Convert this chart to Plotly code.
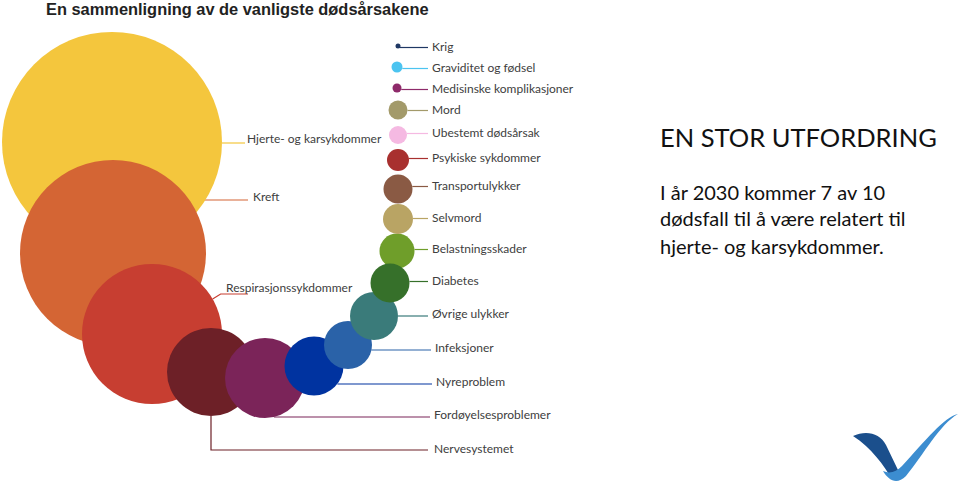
import math
import plotly.graph_objects as go

# ---- data ----
causes = ["Hjerte- og karsykdommer", "Kreft", "Respirasjonssykdommer", "Nervesystemet",
          "Fordøyelsesproblemer", "Nyreproblem", "Infeksjoner", "Øvrige ulykker",
          "Belastningsskader", "Diabetes", "Selvmord", "Transportulykker",
          "Psykiske sykdommer", "Ubestemt dødsårsak", "Mord", "Medisinske komplikasjoner",
          "Graviditet og fødsel", "Krig"]
# relative bubble diameters
bubble_value = [220, 186, 140, 88, 80, 59, 48, 48, 35, 39, 30, 29, 22, 18, 19, 9, 11, 5]

# ---- layout of the bubble arc (pixel-like coordinates) ----
cx = [112, 113, 152, 211, 265, 314, 348, 374, 397, 390, 398, 398, 398, 398, 398, 397, 397, 398]
cy = [142, 253, 334, 372, 378, 366, 345, 316, 251, 283, 219, 189, 160, 135, 110, 88, 67, 46]
lx = [245, 251, 224, 432, 432, 434, 433, 430, 430, 430, 430, 430, 430, 430, 430, 430, 430, 430]
ly = [138, 196, 287, 448, 414, 381, 347, 313, 248, 280, 217, 185, 157, 132, 109, 88, 67, 46]
colors = ["#F4C63D", "#D46534", "#C73E31", "#6D2027", "#7B2459", "#0033A0", "#2A62A8",
          "#3A7B7A", "#6F9E2A", "#36702A", "#B9A464", "#8A5A44", "#A8302F", "#F5B9E2",
          "#A39A6A", "#8E2A6A", "#4CC4F0", "#1F3864"]

fig = go.Figure()

# leader lines
for i, name in enumerate(causes):
    r = bubble_value[i] / 2
    if name == "Hjerte- og karsykdommer":
        xs, ys = [cx[i] + r, lx[i]], [ly[i] + 5, ly[i] + 5]
    elif name in ("Kreft", "Respirasjonssykdommer"):
        a = math.radians(30)
        sx, sy = cx[i] + r * math.cos(a), cy[i] - r * math.sin(a)
        yl = ly[i] + (4 if name == "Kreft" else 7)
        xs, ys = [sx, sx + 8, 248], [sy, yl, yl]
    elif name == "Nervesystemet":
        yl = ly[i] + 2
        xs, ys = [cx[i], cx[i], lx[i] - 4], [cy[i] + r, yl, yl]
    else:
        yl = ly[i] + (3 if i <= 7 else 1.5)
        dy = yl - cy[i]
        sx = cx[i] + (math.sqrt(r * r - dy * dy) if abs(dy) < r else r)
        xs, ys = [sx, lx[i] - 2], [yl, yl]
    fig.add_trace(go.Scatter(x=xs, y=ys, mode="lines", hoverinfo="skip",
                             line=dict(color=colors[i], width=1.2), showlegend=False))

# bubbles
fig.add_trace(go.Scatter(
    x=cx, y=cy, mode="markers", text=causes, hoverinfo="text",
    marker=dict(size=bubble_value, sizemode="diameter", sizeref=1, color=colors,
                opacity=1, line=dict(width=0)),
    showlegend=False))

# labels
for i, name in enumerate(causes):
    fig.add_annotation(x=lx[i], y=ly[i], text=name, showarrow=False,
                       xanchor="left", yanchor="middle",
                       font=dict(family="Lato, Open Sans, sans-serif", size=12, color="#404040"))

# title and side text
fig.add_annotation(x=44, y=9, text="<b>En sammenligning av de vanligste dødsårsakene</b>",
                   showarrow=False, xanchor="left", yanchor="middle",
                   font=dict(family="Liberation Sans, Arial, sans-serif", size=16.4, color="#222222"))
fig.add_annotation(x=658, y=137, text="EN STOR UTFORDRING", showarrow=False,
                   xanchor="left", yanchor="middle",
                   font=dict(family="Lato, sans-serif", size=25.5, color="#111111"))
for txt, yy in [("I år 2030 kommer 7 av 10", 192), ("dødsfall til å være relatert til", 218),
                ("hjerte- og karsykdommer.", 246)]:
    fig.add_annotation(x=658, y=yy, text=txt, showarrow=False, xanchor="left", yanchor="middle",
                       font=dict(family="Lato, sans-serif", size=20, color="#111111"))

# logo
fig.add_shape(type="path", xref="x", yref="y",
              path="M 853 436 C 866 430, 880 433, 886 445 L 898 470 L 892 479 C 884 466, 872 448, 853 436 Z",
              fillcolor="#1B4F8C", line=dict(width=0))
fig.add_shape(type="path", xref="x", yref="y",
              path="M 883 471 C 889 481, 897 485, 906 476 C 924 454, 940 424, 958 414 "
                   "C 944 417, 926 440, 902 466 C 896 472, 890 474, 883 471 Z",
              fillcolor="#3C8DD0", line=dict(width=0))

fig.update_layout(
    width=960, height=485, margin=dict(l=0, r=0, t=0, b=0),
    paper_bgcolor="white", plot_bgcolor="white",
    xaxis=dict(range=[0, 960], visible=False, fixedrange=True),
    yaxis=dict(range=[485, 0], visible=False, fixedrange=True),
)
# remove the default 8px body margin so the figure fills the window exactly
fig.write_html("out.html", config={"displayModeBar": False},
               post_script="document.body.style.margin='0';document.body.style.overflow='hidden';")
